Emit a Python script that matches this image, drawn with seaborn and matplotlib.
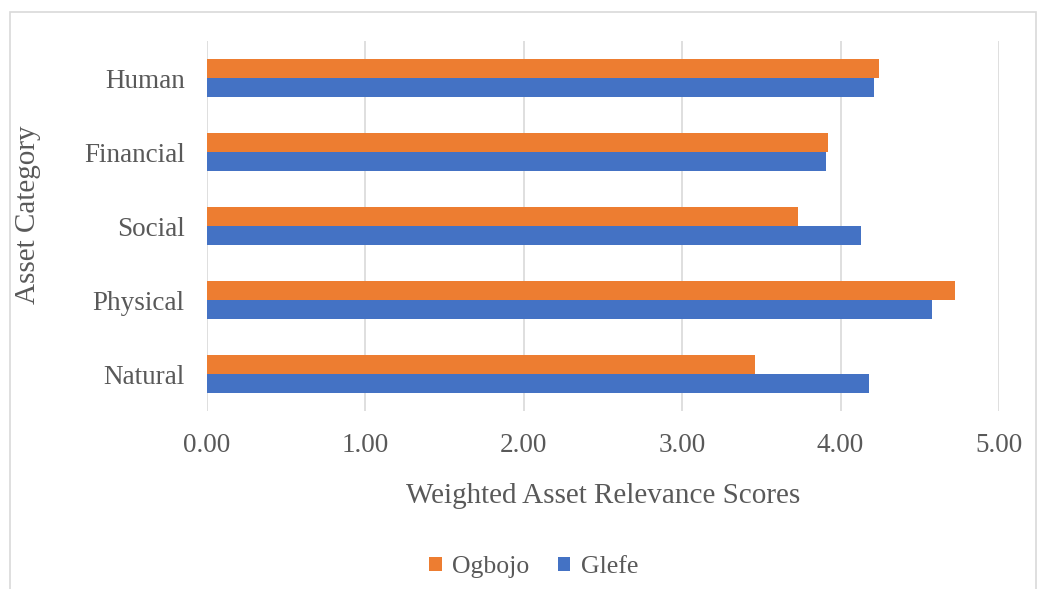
import numpy as np
import pandas as pd
import seaborn as sns
import matplotlib.pyplot as plt
from matplotlib.patches import Rectangle

categories = ['Human', 'Financial', 'Social', 'Physical', 'Natural']
ogbojo = [4.24, 3.92, 3.73, 4.72, 3.46]
glefe = [4.21, 3.91, 4.13, 4.58, 4.18]
series = ['Ogbojo', 'Glefe']
colors = ['#ED7D31', '#4472C4']

df = pd.DataFrame({
    'Category': categories * 2,
    'Score': ogbojo + glefe,
    'Site': ['Ogbojo'] * len(categories) + ['Glefe'] * len(categories),
})

sns.set_style('white')
plt.rcParams['font.family'] = ['Liberation Serif', 'DejaVu Serif']

fig = plt.figure(figsize=(10.39, 5.89), dpi=100)
ax = fig.add_axes([207 / 1039, 1 - 411 / 589, 792 / 1039, 370 / 589])

sns.barplot(data=df, x='Score', y='Category', hue='Site', order=categories,
            hue_order=series, palette=colors, orient='h', width=0.51,
            linewidth=0, saturation=1, ax=ax)

ax.set_xlim(0, 5)
ax.set_xticks(np.arange(0, 5.01, 1))
ax.set_xticklabels([f'{v:.2f}' for v in np.arange(0, 5.01, 1)])
ax.grid(axis='x', color='#d9d9d9', linewidth=1.2)
ax.set_axisbelow(True)
for s in ax.spines.values():
    s.set_visible(False)
ax.tick_params(axis='both', length=0, labelsize=19.5, colors='#595959')
ax.tick_params(axis='y', pad=16)
ax.tick_params(axis='x', pad=16)
ax.set_xlabel('Weighted Asset Relevance Scores', fontsize=21, color='#595959')
ax.set_ylabel('Asset Category', fontsize=21, color='#595959')
ax.xaxis.set_label_coords(0.5, -(483 - 411) / 370)
ax.yaxis.set_label_coords(-(207 - 41) / 792, 0.53)

ax.legend(loc='center', bbox_to_anchor=(0.5135, 1 - 567 / 589), bbox_transform=fig.transFigure,
          ncol=2, frameon=False, fontsize=18.5, labelcolor='#595959',
          handlelength=0.5, handleheight=0.5, handletextpad=0.4, columnspacing=1.1)

fig.patches.append(Rectangle((10 / 1039, -0.01), 1026 / 1039, 1 - 12 / 589 + 0.01,
                             transform=fig.transFigure, fill=False,
                             edgecolor='#d9d9d9', linewidth=1.2))

fig.savefig('out.png', dpi=100)
